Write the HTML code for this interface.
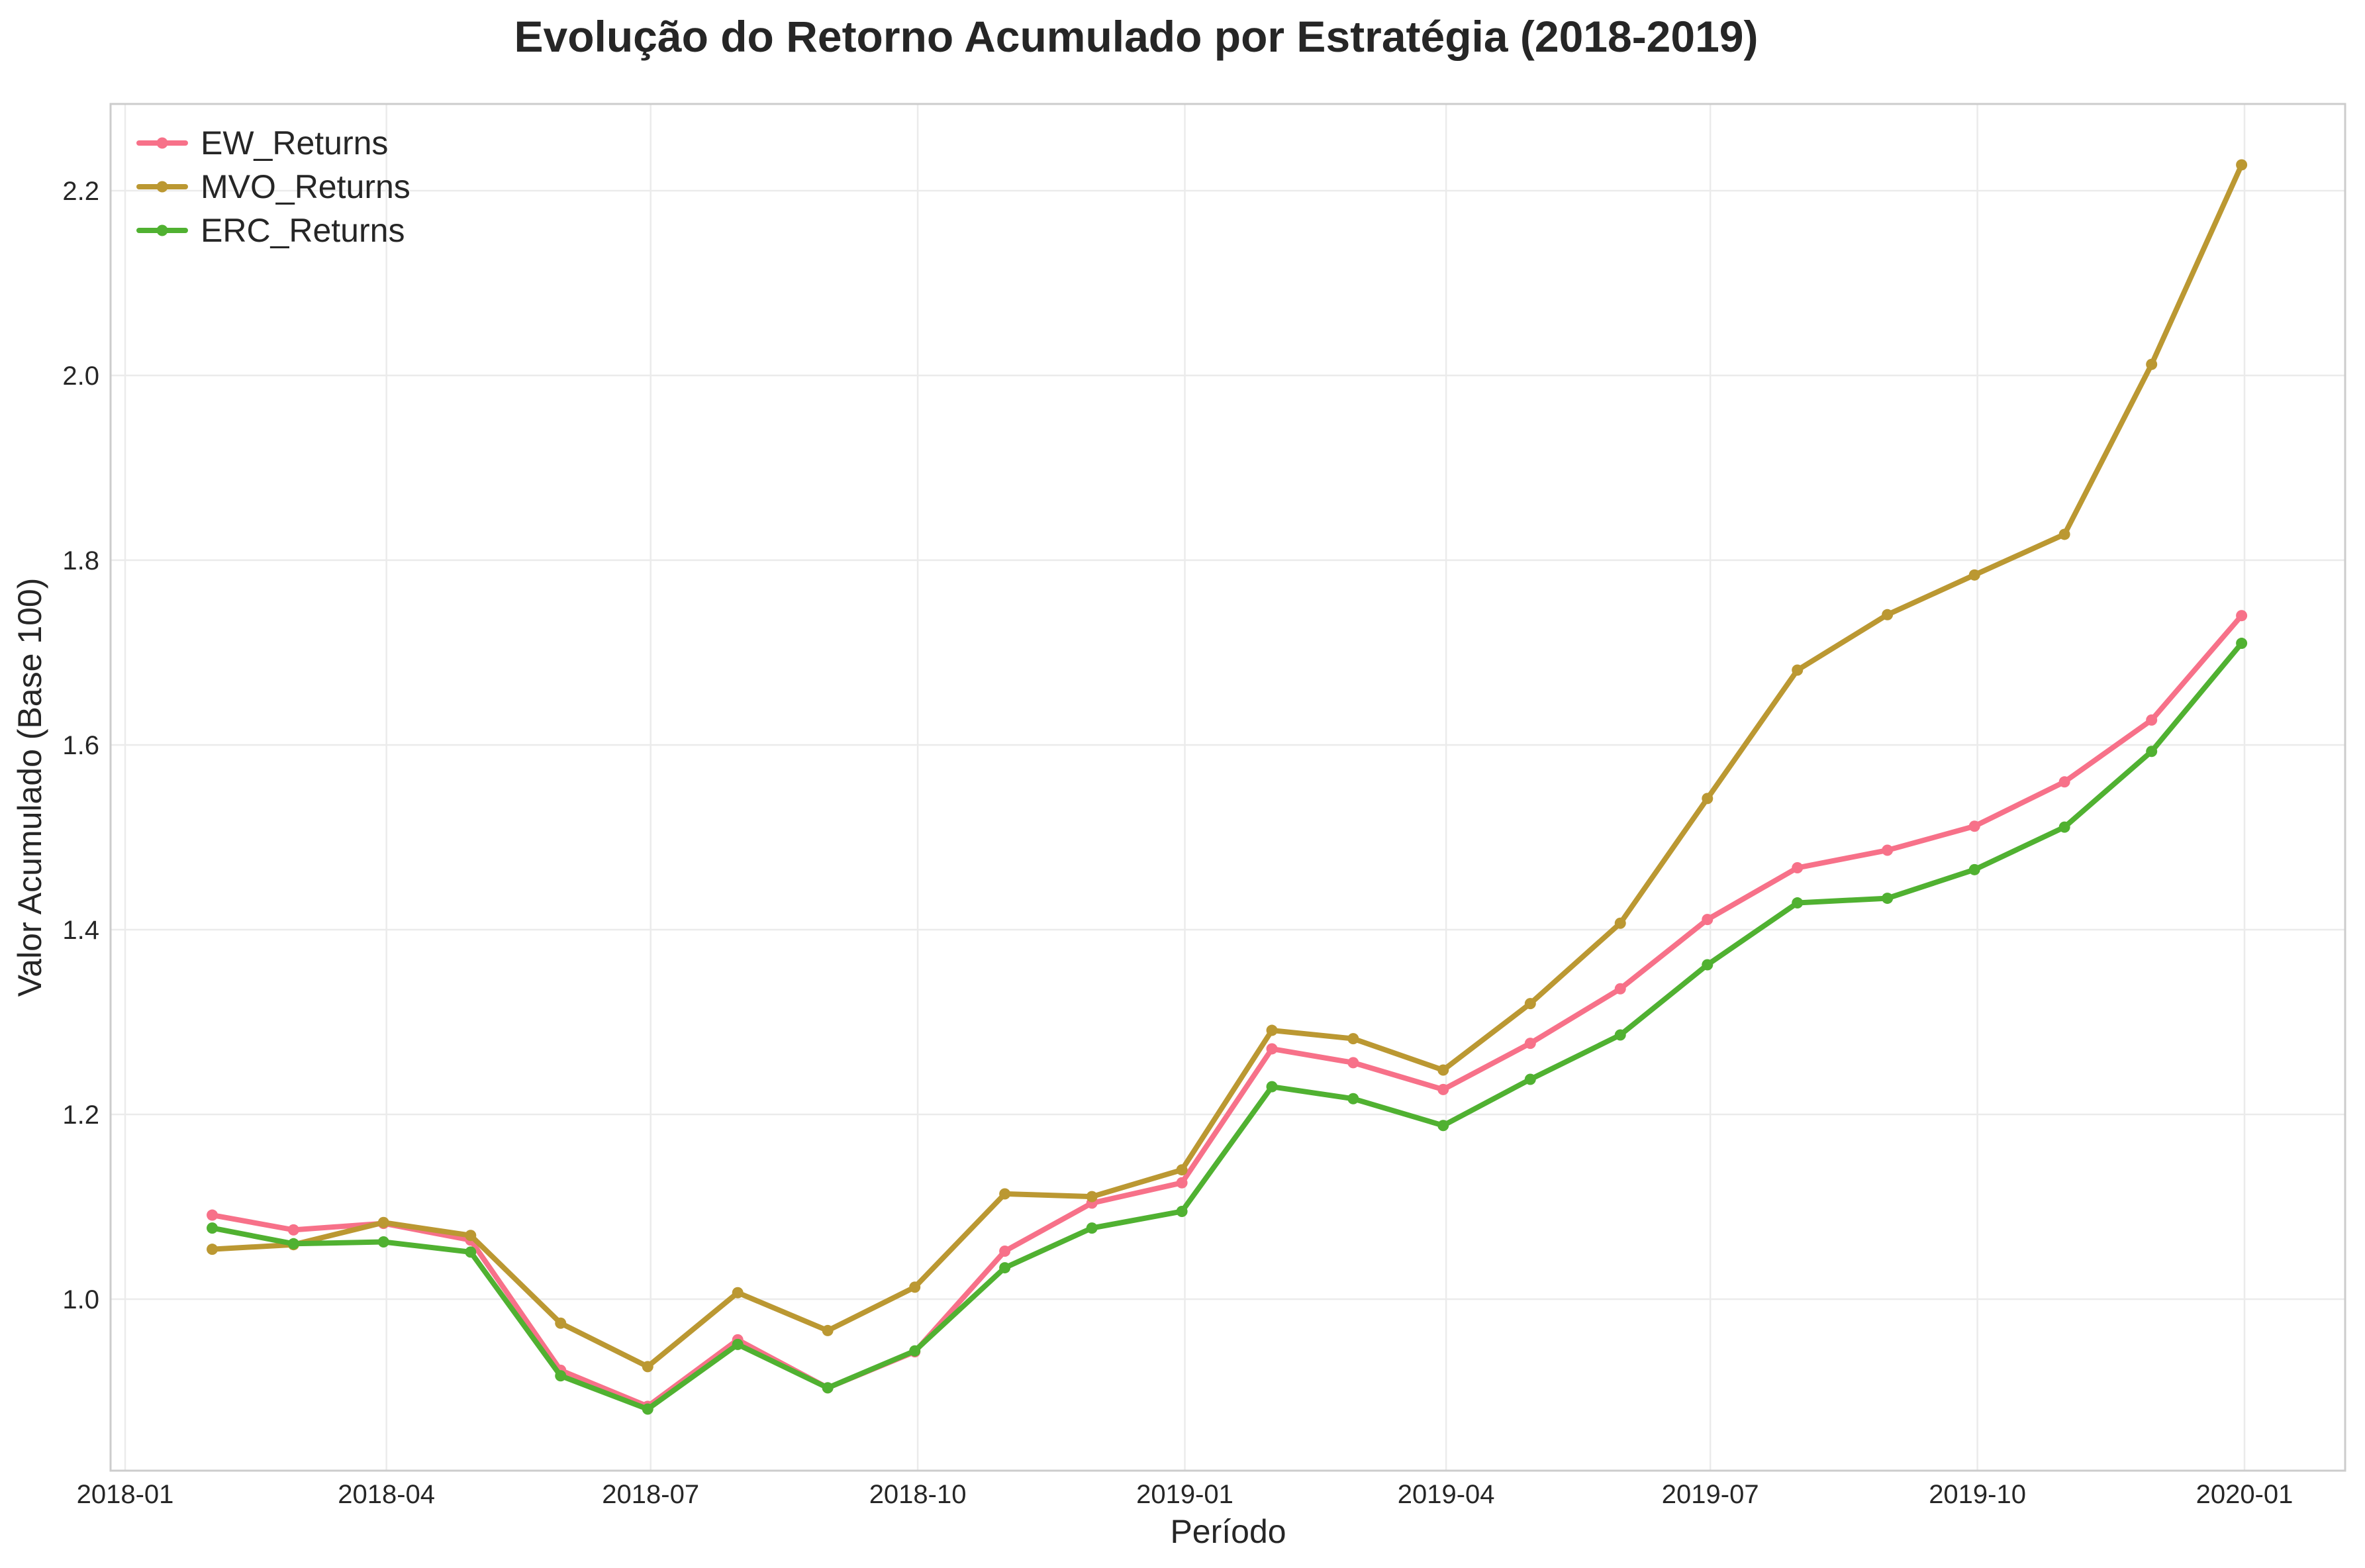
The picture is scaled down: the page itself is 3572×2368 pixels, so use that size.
<!DOCTYPE html>
<html><head><meta charset="utf-8"><style>
body{margin:0;background:#fff;}
svg{display:block;font-family:"Liberation Sans",Arial,sans-serif;}
</style></head><body>
<svg id="chart" width="3572" height="2368" viewBox="0 0 3572 2368" xmlns="http://www.w3.org/2000/svg">
<rect width="3572" height="2368" fill="#fff"/>
<text x="1716" y="78" text-anchor="middle" font-size="66" font-weight="bold" fill="#262626">Evolução do Retorno Acumulado por Estratégia (2018-2019)</text>
<g id="grid"></g>
<rect x="167" y="157" width="3375" height="2064" fill="none" stroke="#cccccc" stroke-width="3"/>
<g id="ticks"></g>
<g id="series"></g>
<text x="1855" y="2330" text-anchor="middle" font-size="50" fill="#262626">Período</text>
<text transform="translate(62,1189) rotate(-90)" text-anchor="middle" font-size="50" fill="#262626">Valor Acumulado (Base 100)</text>
<g id="legend"></g>
</svg>
<script>
const dates = ["2018-01-31","2018-02-28","2018-03-31","2018-04-30","2018-05-31","2018-06-30","2018-07-31","2018-08-31","2018-09-30","2018-10-31","2018-11-30","2018-12-31","2019-01-31","2019-02-28","2019-03-31","2019-04-30","2019-05-31","2019-06-30","2019-07-31","2019-08-31","2019-09-30","2019-10-31","2019-11-30","2019-12-31"];
const ewReturns = [1.091,1.075,1.082,1.064,0.923,0.884,0.956,0.904,0.943,1.052,1.104,1.126,1.271,1.256,1.227,1.277,1.336,1.411,1.467,1.486,1.512,1.560,1.627,1.740];
const mvoReturns = [1.054,1.059,1.083,1.069,0.974,0.927,1.007,0.966,1.013,1.114,1.111,1.140,1.291,1.282,1.248,1.320,1.407,1.542,1.681,1.741,1.784,1.828,2.012,2.228];
const ercReturns = [1.077,1.060,1.062,1.051,0.917,0.881,0.951,0.904,0.944,1.034,1.077,1.095,1.230,1.217,1.188,1.238,1.286,1.362,1.429,1.434,1.465,1.511,1.593,1.710];
const seriesNames = ["EW_Returns","MVO_Returns","ERC_Returns"];
const seriesColors = ["#f77189","#bb9832","#50b131"];
const xTickLabels = ["2018-01","2018-04","2018-07","2018-10","2019-01","2019-04","2019-07","2019-10","2020-01"];
const yTickValues = [1.0,1.2,1.4,1.6,1.8,2.0,2.2];

const NS="http://www.w3.org/2000/svg";
const t0=Date.UTC(2018,0,1), t1=Date.UTC(2020,0,1);
function xScale(d){const p=d.split("-");const t=Date.UTC(+p[0],+p[1]-1,p[2]?+p[2]:1);return 189+(t-t0)/(t1-t0)*(3390-189);}
function yScale(v){return 1962-(v-1)*1395;}
function mk(tag,attrs,parent){const e=document.createElementNS(NS,tag);for(const k in attrs)e.setAttribute(k,attrs[k]);parent.appendChild(e);return e;}
const grid=document.getElementById("grid"),ticks=document.getElementById("ticks"),ser=document.getElementById("series"),leg=document.getElementById("legend");
xTickLabels.forEach(l=>{const x=xScale(l);
 const g=mk("line",{x1:x,x2:x,y1:157,y2:2221,stroke:"#ebebeb","stroke-width":2.5},grid);
 
 
 const t=mk("text",{x:x,y:2270,"text-anchor":"middle","font-size":40,fill:"#262626"},ticks);t.textContent=l;
 
 
});
yTickValues.forEach(v=>{const y=yScale(v);
 const g=mk("line",{x1:167,x2:3542,y1:y,y2:y,stroke:"#ebebeb","stroke-width":2.5},grid);
 
 
 const t=mk("text",{x:150,y:y+14,"text-anchor":"end","font-size":40,fill:"#262626"},ticks);t.textContent=v.toFixed(1);
 
 
});
[ewReturns,mvoReturns,ercReturns].forEach((vals,i)=>{
 const g=mk("g",{},ser);
 
 
 const pts=vals.map((v,j)=>xScale(dates[j])+","+yScale(v)).join(" ");
 const pl=mk("polyline",{points:pts,fill:"none",stroke:seriesColors[i],"stroke-width":8,"stroke-linejoin":"round","stroke-linecap":"round"},g);
 
 
 vals.forEach((v,j)=>{const c=mk("circle",{cx:xScale(dates[j]),cy:yScale(v),r:8.5,fill:seriesColors[i]},g);
  
  });
 const ly=216+i*66;
 const ll=mk("line",{x1:210,x2:280,y1:ly,y2:ly,stroke:seriesColors[i],"stroke-width":8,"stroke-linecap":"round"},leg);
 
 
 mk("circle",{cx:245,cy:ly,r:8.5,fill:seriesColors[i]},leg);
 const lt=mk("text",{x:303,y:ly+17,"font-size":50,fill:"#262626"},leg);lt.textContent=seriesNames[i];
 
 
});
</script>
</body></html>
